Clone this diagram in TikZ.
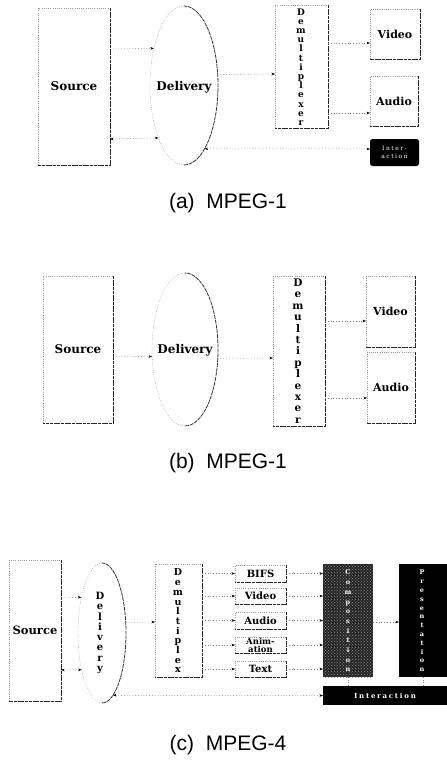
\documentclass[tikz,border=0pt]{standalone}
\usepackage{fontspec}
\setmainfont{DejaVu Serif}
\newfontfamily\capfont{Liberation Sans}
\newfontfamily\bxfont{DejaVu Serif}
\newfontfamily\spfont{DejaVu Serif}[LetterSpace=25]
\usetikzlibrary{arrows.meta,shapes.geometric,patterns}

\newcommand\tonebox[1]{%
  \draw[lt] (#1.south west) -- (#1.north west) -- (#1.north east);
  \draw[dk] (#1.north east) -- (#1.south east) -- (#1.south west);}
\newcommand\toneell[3]{%
  \draw[lt] (#1.north) arc[start angle=90,end angle=270,x radius=#2pt,y radius=#3pt];
  \draw[dkl] (#1.south) arc[start angle=270,end angle=450,x radius=#2pt,y radius=#3pt];}

\tikzset{
  lt/.style={draw=black!40, line width=0.5pt, dash pattern=on 0.7pt off 1.5pt},
  dk/.style={draw=black!85, line width=1pt, dash pattern=on 3pt off 0.7pt},
  dkl/.style={draw=black!80, line width=0.8pt, dash pattern=on 4pt off 0.8pt},
  boxn/.style={rectangle, inner sep=0pt, outer sep=0pt, font=\bxfont\bfseries},
  elln/.style={ellipse, inner sep=0pt, outer sep=0pt},
  mytip/.tip={Stealth[length=3.5pt,width=2.6pt,black]},
  conn/.style={draw=black!50, line width=0.5pt, dash pattern=on 0.8pt off 2pt, -mytip},
  conntwo/.style={draw=black!50, line width=0.5pt, dash pattern=on 0.8pt off 2pt, mytip-mytip},
  plainln/.style={draw=black!50, line width=0.5pt, dash pattern=on 0.8pt off 2pt},
  vlet/.style={align=center, inner sep=0pt},
  captxt/.style={font=\capfont\fontsize{21}{24}\selectfont, inner sep=0pt},
  blk/.style={rectangle, fill=black, inner sep=0pt, outer sep=0pt, text=white},
  hatch/.style={rectangle, inner sep=0pt, outer sep=0pt, preaction={fill=black!85},
     pattern=crosshatch dots, pattern color=black!45},
}

\begin{document}
\begin{tikzpicture}[x=1pt,y=-1pt]
\useasboundingbox (0,0) rectangle (447,763);

% ===== (a) =====
\node[boxn, minimum width=72pt, minimum height=157pt, font=\bxfont\bfseries\fontsize{12}{14}\selectfont] (srcA) at (74,86.5) {Source};
\node[elln, minimum width=68pt, minimum height=159pt] (delA) at (184,85.5) {};
\node[inner sep=0pt, font=\bxfont\bfseries\fontsize{12}{14}\selectfont] (delAt) at (184,87) {Delivery};
\node[boxn, minimum width=53pt, minimum height=123pt] (demA) at (301.5,66.5) {};
\node[vlet, font=\bxfont\bfseries\fontsize{9}{9.2}\selectfont] (demAt) at (301,67) {D\\e\\m\\u\\l\\t\\i\\p\\l\\e\\x\\e\\r};
\node[boxn, minimum width=50pt, minimum height=50pt, font=\bxfont\bfseries\fontsize{11}{12}\selectfont] (vidA) at (395,34) {Video};
\node[boxn, minimum width=48pt, minimum height=50pt, font=\bxfont\bfseries\fontsize{11}{12}\selectfont] (audA) at (394,101) {Audio};
\node[blk, rounded corners=2.5pt, minimum width=49pt, minimum height=27pt, align=center, font=\spfont\fontsize{6}{8}\selectfont] (intA) at (394.5,152.5) {Inter-\\action};
\tonebox{srcA}\tonebox{demA}\tonebox{vidA}\tonebox{audA}
\toneell{delA}{34}{79.5}

\draw[conn] (srcA.east |- 0,49) -- (delA.129.6);
\draw[conn] (delA.18.9) -- (demA.west |- 0,74);
\draw[conn] (demA.east |- 0,43) -- (vidA.west |- 0,43);
\draw[conn] (demA.east |- 0,113) -- (audA.west |- 0,113);
\draw[conntwo] (intA.west |- 0,149) -- (delA.-72.1);
\draw[conntwo] (delA.244.9) -- (srcA.east |- 0,139);

\node[captxt] (capA) at (228,203) {(a)\ \ MPEG-1};

% ===== (b) =====
\node[boxn, minimum width=70pt, minimum height=147pt, font=\bxfont\bfseries\fontsize{12}{14}\selectfont] (srcB) at (78,349.5) {Source};
\node[elln, minimum width=66pt, minimum height=153pt] (delB) at (185,349.5) {};
\node[inner sep=0pt, font=\bxfont\bfseries\fontsize{12}{14}\selectfont] (delBt) at (185,350) {Delivery};
\node[boxn, minimum width=52pt, minimum height=150pt] (demB) at (299,351) {};
\node[vlet, font=\bxfont\bfseries\fontsize{10.5}{11.4}\selectfont] (demBt) at (298,351) {D\\e\\m\\u\\l\\t\\i\\p\\l\\e\\x\\e\\r};
\node[boxn, minimum width=49pt, minimum height=71pt, font=\bxfont\bfseries\fontsize{11}{12}\selectfont] (vidB) at (390.5,311.5) {Video};
\node[boxn, minimum width=48pt, minimum height=71pt, font=\bxfont\bfseries\fontsize{11}{12}\selectfont] (audB) at (391,387.5) {Audio};
\tonebox{srcB}\tonebox{demB}\tonebox{vidB}\tonebox{audB}
\toneell{delB}{33}{76.5}

\draw[conn] (srcB.east |- 0,357) -- (delB.192.9);
\draw[conn] (delB.345.4) -- (demB.west |- 0,358);
\draw[conn] (demB.east |- 0,321) -- (vidB.west |- 0,321);
\draw[conn] (demB.east |- 0,398) -- (audB.west |- 0,398);

\node[captxt] (capB) at (228,463) {(b)\ \ MPEG-1};

% ===== (c) =====
\node[boxn, minimum width=52pt, minimum height=141pt, font=\bxfont\bfseries\fontsize{11.5}{13}\selectfont] (srcC) at (35,630.5) {Source};
\node[elln, minimum width=48pt, minimum height=140pt] (delC) at (102,633) {};
\node[vlet, font=\bxfont\bfseries\fontsize{10}{10.3}\selectfont] (delCt) at (100,633) {D\\e\\l\\i\\v\\e\\r\\y};
\node[boxn, minimum width=47pt, minimum height=113pt] (demC) at (178.5,620.5) {};
\node[vlet, font=\bxfont\bfseries\fontsize{9.5}{9.7}\selectfont] (demCt) at (178,621) {D\\e\\m\\u\\l\\t\\i\\p\\l\\e\\x};

\begin{scope}[every node/.style={boxn, minimum width=51pt, font=\bxfont\bfseries\fontsize{10}{10}\selectfont}]
\node[minimum height=17pt] (bifsC) at (260.5,573.5) {BIFS};
\node[minimum height=16pt] (vidC) at (260.5,596) {Video};
\node[minimum height=17pt] (audC) at (260.5,620.5) {Audio};
\node[minimum height=16pt, align=center, font=\bxfont\bfseries\fontsize{8.5}{8}\selectfont] (aniC) at (260.5,645) {Anim-\\ation};
\node[minimum height=16pt] (txtC) at (260.5,669) {Text};
\end{scope}

\node[hatch, minimum width=50pt, minimum height=113pt] (compC) at (348,620.5) {};
\node[vlet, text=white, font=\bxfont\bfseries\fontsize{6.5}{9.7}\selectfont] (compCt) at (348,621) {C\\o\\m\\p\\o\\s\\i\\t\\i\\o\\n};
\node[blk, minimum width=48pt, minimum height=113pt] (presC) at (423,620.5) {};
\node[vlet, text=white, font=\bxfont\bfseries\fontsize{6.5}{8.8}\selectfont] (presCt) at (422,621) {P\\r\\e\\s\\e\\n\\t\\a\\t\\i\\o\\n};
\node[blk, minimum width=124pt, minimum height=19pt, font=\spfont\bfseries\fontsize{7}{8}\selectfont] (intC) at (385,695.5) {Interaction};

\tonebox{srcC}\tonebox{demC}
\tonebox{bifsC}\tonebox{vidC}\tonebox{audC}\tonebox{aniC}\tonebox{txtC}
\toneell{delC}{24}{70}

\draw[conn] (srcC.east |- 0,598) -- (delC.120.7);
\draw[conntwo] (delC.241.1) -- (srcC.east |- 0,670);
\draw[conn] (delC.24.9) -- (demC.west |- 0,622);
\foreach \b in {bifsC,vidC,audC,aniC,txtC}{
  \draw[conn] (demC.east |- \b.west) -- (\b.west);
  \draw[conn] (\b.east) -- (compC.west |- \b.east);
}
\draw[conn] (compC.east |- 0,622) -- (presC.west |- 0,622);
\draw[conntwo] (intC.west) -- (delC.-80.2);
\draw[plainln] (intC.north -| compC.south) -- (compC.south);
\draw[plainln] (intC.north -| presC.south) -- (presC.south);

\node[captxt] (capC) at (228,745) {(c)\ \ MPEG-4};
\end{tikzpicture}
\end{document}
